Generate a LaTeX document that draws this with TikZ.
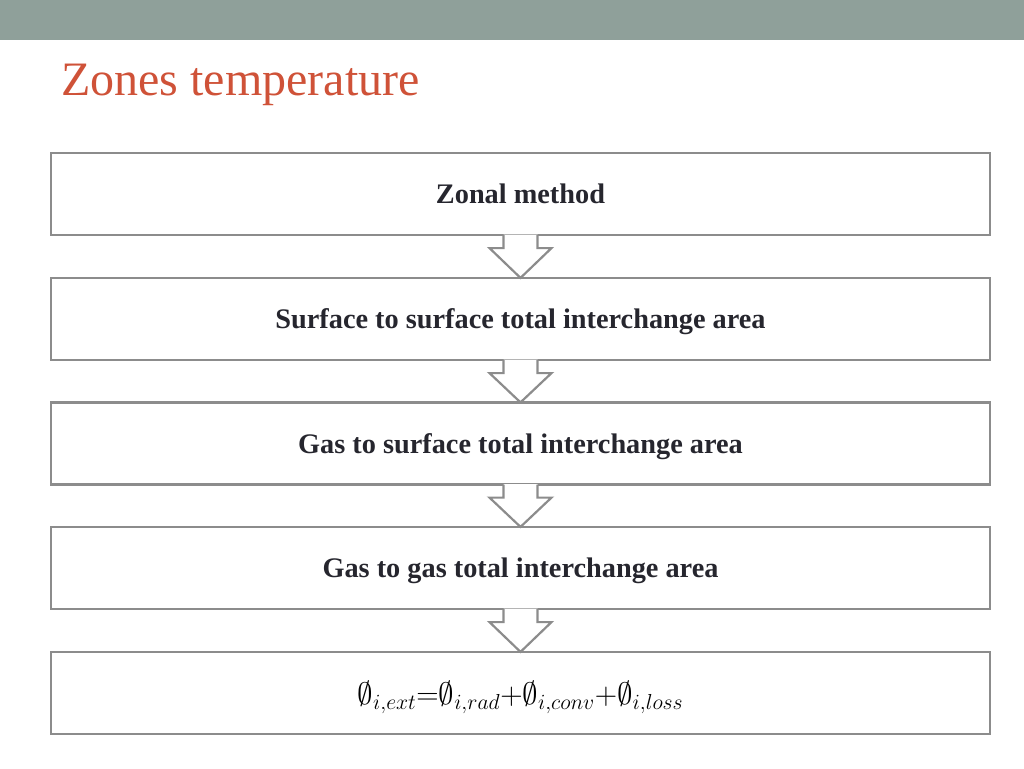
\RequirePackage{fix-cm}
\documentclass[tikz,border=0pt]{standalone}
\usepackage{amsmath}
\usepackage{fontspec}
\setmainfont{Liberation Serif}
\usetikzlibrary{calc}
\definecolor{barcol}{HTML}{8FA09A}
\definecolor{titlecol}{HTML}{CF5238}
\definecolor{edgecol}{HTML}{8C8C8C}
\definecolor{txtcol}{HTML}{26262E}
\tikzset{
  stagebox/.style={draw=edgecol, line width=2.2pt, fill=white, minimum width=939pt, minimum height=82pt, inner sep=0pt, text depth=0pt, text=txtcol, font=\fontsize{28.3}{32}\selectfont\bfseries},
  blockarrow/.style={draw=edgecol, line width=2.2pt, line join=miter},
  blockfill/.style={fill=white}
}
\begin{document}
\begin{tikzpicture}[x=1pt,y=-1pt]
\useasboundingbox (0,0) rectangle (1024,768);
\fill[barcol] (0,0) rectangle (1024,40);
\node[anchor=base west, inner sep=0pt, text=titlecol, font=\fontsize{48}{52}\selectfont] (title) at (61,95) {Zones temperature};
\node[stagebox] (b1) at (520.5,194) {Zonal method};
\node[stagebox] (b2) at (520.5,319) {Surface to surface total interchange area};
\node[stagebox] (b3) at (520.5,443.5) {Gas to surface total interchange area};
\node[stagebox] (b4) at (520.5,568) {Gas to gas total interchange area};
\node[stagebox, font=\fontsize{31}{35}\selectfont, text=black] (b5) at (520.5,693) {$\emptyset_{i,ext}{=}\emptyset_{i,rad}{+}\emptyset_{i,conv}{+}\emptyset_{i,loss}$};
\foreach \a/\b in {b1/b2,b2/b3,b3/b4,b4/b5}{
  \fill[blockfill] ($(\a.south)+(-17,-1.6)$) -- ($(\a.south)+(-17,12)$) -- ($(\a.south)+(-31,12)$) -- ($(\b.north)+(0,1)$) -- ($(\a.south)+(31,12)$) -- ($(\a.south)+(17,12)$) -- ($(\a.south)+(17,-1.6)$) -- cycle;
  \draw[blockarrow] ($(\a.south)+(-17,-1.1)$) -- ($(\a.south)+(-17,12)$) -- ($(\a.south)+(-31,12)$) -- ($(\b.north)+(0,1)$) -- ($(\a.south)+(31,12)$) -- ($(\a.south)+(17,12)$) -- ($(\a.south)+(17,-1.1)$);
}
\end{tikzpicture}
\end{document}
